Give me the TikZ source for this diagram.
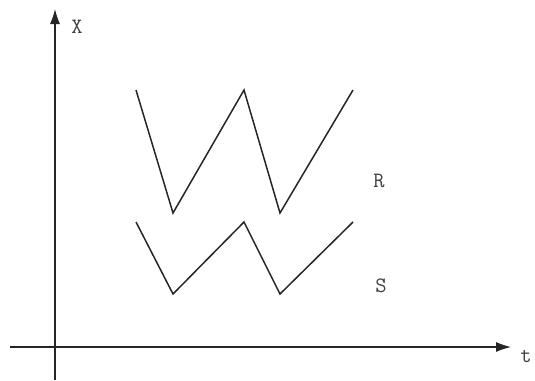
\documentclass[tikz,border=0pt]{standalone}
\usepackage{fontspec}
\usetikzlibrary{arrows.meta}
\begin{document}
\begin{tikzpicture}[x=1bp,y=-1bp,
  axis/.style={line width=1.1bp,draw=black!85,-{Latex[length=15bp,width=10bp]}},
  zig/.style={line width=1.5bp,draw=black!85,line join=miter},
  lbl/.style={font=\ttfamily\fontsize{22}{24}\selectfont,text=black!75,inner sep=0pt}]
\useasboundingbox (0,0) rectangle (535,380);
% axes
\coordinate (yb) at (55,380);
\coordinate (yt) at (55,9);
\coordinate (xl) at (10,347);
\coordinate (xr) at (511,347);
\draw[axis] (yb) -- (yt);
\draw[axis] (xl) -- (xr);
\node[lbl] (X) at (77,26.5) {X};
\node[lbl] (t) at (526,356) {t};
% R curve
\coordinate (r1) at (136,90);
\coordinate (r2) at (173,213);
\coordinate (r3) at (244,90);
\coordinate (r4) at (280,213);
\coordinate (r5) at (353,90);
\draw[zig] (r1) -- (r2) -- (r3) -- (r4) -- (r5);
% S curve
\coordinate (s1) at (136,222);
\coordinate (s2) at (173,294);
\coordinate (s3) at (244,222);
\coordinate (s4) at (280,294);
\coordinate (s5) at (353,222);
\draw[zig] (s1) -- (s2) -- (s3) -- (s4) -- (s5);
\node[lbl] (R) at (379,181) {R};
\node[lbl] (S) at (381,286) {S};
\end{tikzpicture}
\end{document}
